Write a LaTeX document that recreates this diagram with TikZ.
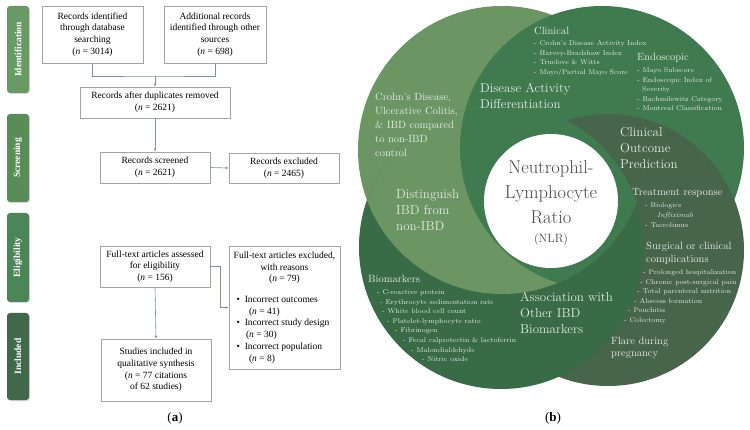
\documentclass[tikz,border=0pt]{standalone}
\usepackage{fontspec}
\newfontfamily\tnr{Liberation Serif}
\usetikzlibrary{arrows.meta,shadows}
\definecolor{cL}{HTML}{6B9664}
\definecolor{cM}{HTML}{3F7B4E}
\definecolor{cG}{HTML}{47654B}
\definecolor{cD}{HTML}{386B46}
\definecolor{cId}{HTML}{6A9A63}
\definecolor{cSc}{HTML}{5A8C58}
\definecolor{cEl}{HTML}{4C8658}
\definecolor{cIn}{HTML}{40694C}
\definecolor{boxc}{HTML}{A5A5A5}
\definecolor{conc}{HTML}{7D9683}
\definecolor{txtw}{HTML}{E6E9E6}
\definecolor{coretxt}{HTML}{4A4A4A}
\begin{document}
\begin{tikzpicture}[x=1pt,y=-1pt,
  box/.style={draw=boxc,line width=0.6pt,fill=white,align=center,inner sep=0pt,
    font=\tnr\fontsize{9.5}{11.7}\selectfont,
    drop shadow={shadow xshift=1.2pt,shadow yshift=-1.2pt,fill=black,opacity=0.18}},
  phase/.style={rounded corners=3pt,rotate=90,text=white,inner sep=0pt,
    font=\tnr\bfseries\fontsize{9.5}{11}\selectfont,minimum height=22pt,
    drop shadow={shadow xshift=1pt,shadow yshift=-1pt,fill=black,opacity=0.15}},
  conn/.style={draw=conc,line width=0.6pt},
  arr/.style={conn,-{Latex[length=3pt,width=2.6pt]}},
  lbl/.style={text=txtw,inner sep=0pt,align=left,anchor=base west},
  big/.style={lbl,font=\fontsize{13}{16}\selectfont},
  mid/.style={lbl,font=\fontsize{10.5}{13}\selectfont},
  sm/.style={lbl,font=\fontsize{6.9}{9.6}\selectfont},
]
\useasboundingbox (0,0) rectangle (750,430);
\fill[white] (0,0) rectangle (750,430);

% ---------- left panel ----------
\node[phase,fill=cId,minimum width=87pt] (pid) at (18,49.5) {Identification};
\node[phase,fill=cSc,minimum width=88pt] (psc) at (18,158) {Screening};
\node[phase,fill=cEl,minimum width=89pt] (pel) at (18,257.5) {Eligibility};
\node[phase,fill=cIn,minimum width=87pt] (pin) at (18,356.5) {Included};

\node[box,minimum width=101pt,minimum height=57pt] (b1) at (92.5,34.5)
  {Records identified\\through database\\searching\\(\textit{n} = 3014)};
\node[box,minimum width=102pt,minimum height=57pt] (b2) at (215,34.5)
  {Additional records\\identified through other\\sources\\(\textit{n} = 698)};
\node[box,minimum width=150pt,minimum height=31pt] (b3) at (155,102.5)
  {Records after duplicates removed\\(\textit{n} = 2621)};
\node[box,minimum width=110pt,minimum height=31pt] (b4) at (155,167.5)
  {Records screened\\(\textit{n} = 2621)};
\node[box,minimum width=110pt,minimum height=30pt] (b5) at (284,168)
  {Records excluded\\(\textit{n} = 2465)};
\node[box,minimum width=110pt,minimum height=41pt] (b6) at (155,266.5)
  {Full-text articles assessed\\for eligibility\\(\textit{n} = 156)};
\node[box,align=none,text width=103pt,minimum width=111pt,minimum height=123pt] (b7) at (284.5,307.5)
  {{\centering Full-text articles excluded,\\with reasons\\(\textit{n} = 79)\par}
   \vspace{9pt}
   {\raggedright
   \hspace*{3.5pt}\textbullet\hspace{5pt}Incorrect outcomes\\
   \hspace*{16pt}(\textit{n} = 41)\\
   \hspace*{3.5pt}\textbullet\hspace{5pt}Incorrect study design\\
   \hspace*{13pt}(\textit{n} = 30)\\
   \hspace*{3.5pt}\textbullet\hspace{5pt}Incorrect population\\
   \hspace*{16pt}(\textit{n} = 8)\par}};
\node[box,minimum width=110pt,minimum height=62pt] (b8) at (156,370)
  {Studies included in\\qualitative synthesis\\(\textit{n} = 77 citations\\of 62 studies)};

\coordinate (j1) at (155,76);
\coordinate (j2) at (220,307.5);
\draw[conn] (b1.south) |- (j1) -| (b2.south);
\draw[arr] (j1) -- (b3.north);
\draw[arr] (b3.south) -- (b4.north);
\draw[arr] (b4.east) -- (b5.west);
\draw[conn] (b6.east) -| (j2);
\draw[arr] (j2) -- (b7.west);
\draw[arr] (b6.south) -- (b8.north);

\node[font=\tnr\fontsize{13}{15}\selectfont] (capa) at (175,418) {(\textbf{a})};

% ---------- right panel ----------
\def\Lc{(502,150) circle[radius=144pt]}
\def\Mc{(602,148) circle[radius=142pt]}
\def\Gc{(608,250) circle[radius=136pt]}
\def\Dc{(501,247) circle[radius=142pt]}
\fill[cL] \Lc;
\fill[cM] \Mc;
\fill[cG] \Gc;
\fill[cD] \Dc;
\begin{scope}
  \clip \Dc;
  \fill[cL] \Lc;
\end{scope}
\begin{scope}
  \clip \Dc;
  \clip \Lc;
  \fill[cM] \Mc;
\end{scope}
\node[circle,fill=white,minimum size=134pt,inner sep=0pt] (core) at (551,201) {};

\node[font=\fontsize{18.5}{25}\selectfont,text=coretxt,align=center,anchor=base,inner sep=0pt] (nlr) at (551,224)
  {Neutrophil-\\Lymphocyte\\Ratio};
\node[font=\fontsize{12}{14}\selectfont,text=coretxt,anchor=base,inner sep=0pt] (nlrab) at (551,243) {(NLR)};

\node[lbl,font=\fontsize{10.5}{14}\selectfont] (tcro) at (375,157)
  {Crohn\textquotesingle s Disease,\\Ulcerative Colitis,\\\& IBD compared\\to non-IBD\\control};
\node[big] (tdis) at (396,231) {Distinguish\\IBD from\\non-IBD};
\node[big] (tact) at (480,109) {Disease Activity\\Differentiation};
\node[big] (tout) at (620,169) {Clinical\\Outcome\\Prediction};
\node[big] (tass) at (520,334) {Association with\\Other IBD\\Biomarkers};

\node[mid] (hcl) at (534,35) {Clinical};
\node[sm] (lcl) at (534,74.3) {- Crohn\textquotesingle s Disease Activity Index\\- Harvey-Bradshaw Index\\- Truelove \& Witts\\- Mayo/Partial Mayo Score};
\node[mid] (hen) at (637,61) {Endoscopic};
\node[sm] (len) at (637,110.9) {- Mayo Subscore\\- Endoscopic Index of\\\hspace*{5pt}Severity\\- Rachmilewitz Category\\- Montreal Classification};
\node[mid] (htr) at (632,196) {Treatment response};
\node[sm] (ltr) at (645,227.2) {- Biologics\\\hspace*{12pt}\textit{Infliximab}\\- Tacrolimus};
\node[mid] (hsu) at (646,263) {Surgical or clinical\\complications};
\node[sm] (lsu) at (624,322.5) {\hspace*{19pt}- Prolonged hospitalization\\\hspace*{16pt}- Chronic post-surgical pain\\\hspace*{13pt}- Total parenteral nutrition\\\hspace*{10pt}- Abscess formation\\\hspace*{4pt}- Pouchitis\\- Colectomy};
\node[mid] (hfl) at (611,357) {Flare during\\pregnancy};
\node[mid] (hbi) at (368,283) {Biomarkers};
\node[sm] (lbi) at (377,361.7) {- C-reactive protein\\\hspace*{3pt}- Erythrocyte sedimentation rate\\\hspace*{5pt}- White blood cell count\\\hspace*{10pt}- Platelet-lymphocyte ratio\\\hspace*{18pt}- Fibrinogen\\\hspace*{26pt}- Fecal calprotectin \& lactoferrin\\\hspace*{34pt}- Malondialdehyde\\\hspace*{45pt}- Nitric oxide};

\node[font=\tnr\fontsize{13}{15}\selectfont] (capb) at (553,418) {(\textbf{b})};
\end{tikzpicture}
\end{document}
